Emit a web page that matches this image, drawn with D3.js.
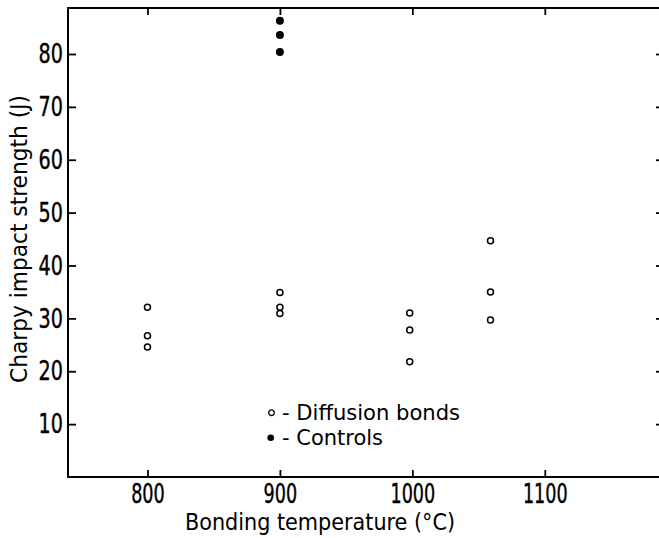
<!DOCTYPE html>
<html>
<head>
<meta charset="utf-8">
<script src="https://cdn.jsdelivr.net/npm/d3@7"></script>
<style>
  body { margin: 0; background: #fff; }
  svg text { font-family: "DejaVu Sans Condensed", "DejaVu Sans", sans-serif; fill: #000; }
</style>
</head>
<body>
<div id="chart"></div>
<script>
// tick values
var xTicks = [800, 900, 1000, 1100];
var yTicks = [10, 20, 30, 40, 50, 60, 70, 80];

// diffusion bonds (open circles)
var bondTemp = [800, 800, 800, 900, 900, 900, 998, 998, 998, 1059, 1059, 1059];
var bondEnergy = [32.1, 26.7, 24.6, 34.9, 32.1, 30.9, 31.0, 27.8, 21.8, 44.7, 35.0, 29.7];

// controls (filled circles)
var ctrlTemp = [900, 900, 900];
var ctrlEnergy = [86.3, 83.6, 80.4];

var W = 659, H = 538;
var margin = {top: 8, right: -5, bottom: 61, left: 68};
var width = W - margin.left - margin.right,
    height = H - margin.top - margin.bottom;

var svg = d3.select("#chart").append("svg")
    .attr("width", W)
    .attr("height", H)
  .append("g")
    .attr("transform", "translate(" + margin.left + "," + margin.top + ")");

var x = d3.scaleLinear().domain([740, 1190]).range([0, width]);
var y = d3.scaleLinear().domain([0, 88.7]).range([height, 0]);

// frame
svg.append("rect")
  .attr("width", width).attr("height", height)
  .attr("fill", "none").attr("stroke", "#000").attr("stroke-width", 2);

// inward ticks, narrow lettering like the stencil font of the original
function styleAxis(digitW) {
  return function(g) {
    g.select(".domain").remove();
    g.selectAll(".tick line").attr("stroke", "#000").attr("stroke-width", 1.8);
    g.selectAll(".tick text")
      .attr("font-size", 27)
      .attr("stroke", "#000")
      .attr("stroke-width", 0.4)
      .attr("lengthAdjust", "spacingAndGlyphs")
      .attr("textLength", function(d) { return String(d).length * digitW; });
  };
}

svg.append("g")
  .attr("transform", "translate(0," + height + ")")
  .call(d3.axisBottom(x).tickValues(xTicks).tickSizeInner(-7).tickPadding(6.5).tickFormat(d3.format("d")))
  .call(styleAxis(11.2));

svg.append("g")
  .call(d3.axisTop(x).tickValues(xTicks).tickSizeInner(-7).tickFormat(""))
  .call(styleAxis(11));

svg.append("g")
  .call(d3.axisLeft(y).tickValues(yTicks).tickSizeInner(-8).tickPadding(5).tickFormat(d3.format("d")))
  .call(styleAxis(12.2));

svg.append("g")
  .attr("transform", "translate(" + width + ",0)")
  .call(d3.axisRight(y).tickValues(yTicks).tickSizeInner(-8).tickFormat(""))
  .call(styleAxis(11));

// points
svg.append("g").selectAll("circle")
  .data(bondTemp)
  .enter().append("circle")
    .attr("cx", function(d) { return x(d); })
    .attr("cy", function(d, i) { return y(bondEnergy[i]); })
    .attr("r", 3)
    .attr("fill", "#fff")
    .attr("stroke", "#000")
    .attr("stroke-width", 1.5);

svg.append("g").selectAll("circle")
  .data(ctrlTemp)
  .enter().append("circle")
    .attr("cx", function(d) { return x(d); })
    .attr("cy", function(d, i) { return y(ctrlEnergy[i]); })
    .attr("r", 4)
    .attr("fill", "#000");

// legend
var legend = svg.append("g").attr("transform", "translate(" + (271.5 - margin.left) + "," + (412.7 - margin.top) + ")");
legend.append("circle").attr("r", 2.8).attr("fill", "#fff").attr("stroke", "#000").attr("stroke-width", 1.3);
legend.append("circle").attr("cx", -0.8).attr("cy", 25).attr("r", 3.3).attr("fill", "#000");
legend.append("text").attr("x", 10.5).attr("y", 7.3).attr("font-size", 21)
  .attr("textLength", 178).attr("lengthAdjust", "spacingAndGlyphs")
  .text("- Diffusion bonds");
legend.append("text").attr("x", 10.5).attr("y", 32.3).attr("font-size", 21)
  .attr("textLength", 101).attr("lengthAdjust", "spacingAndGlyphs")
  .text("- Controls");

// axis titles
svg.append("text")
  .attr("x", 185 - margin.left)
  .attr("y", 529.5 - margin.top)
  .attr("font-size", 23)
  .attr("textLength", 270).attr("lengthAdjust", "spacingAndGlyphs")
  .text("Bonding temperature (°C)");

svg.append("text")
  .attr("transform", "translate(" + (27 - margin.left) + "," + (383 - margin.top) + ") rotate(-90)")
  .attr("font-size", 23)
  .attr("textLength", 288).attr("lengthAdjust", "spacingAndGlyphs")
  .text("Charpy impact strength (J)");
</script>
</body>
</html>
